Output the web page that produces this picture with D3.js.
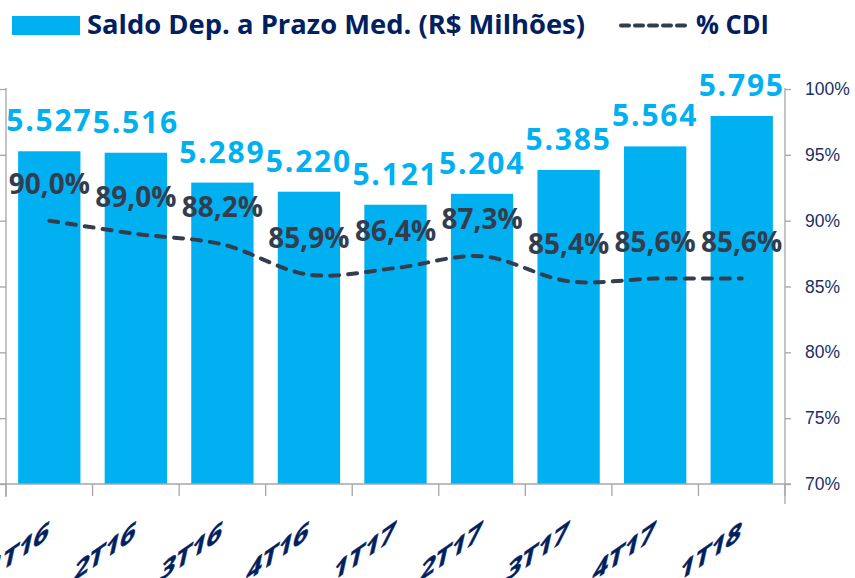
<!DOCTYPE html>
<meta charset="utf-8">
<style>
body { margin: 0; background: #fff; }
svg { display: block; font-family: "Open Sans", "Noto Sans", sans-serif; }
.axis line, .axis path { stroke: #a6a6a6; stroke-width: 1.3; }
</style>
<body>
<script src="https://d3js.org/d3.v7.min.js"></script>
<script>

// data
const quarters = ["1T16", "2T16", "3T16", "4T16", "1T17", "2T17", "3T17", "4T17", "1T18"];
const saldo = [5527, 5516, 5289, 5220, 5121, 5204, 5385, 5564, 5795];
const cdi = [90.0, 89.0, 88.2, 85.9, 86.4, 87.3, 85.4, 85.6, 85.6];
const leftTicks = [3000, 3500, 4000, 4500, 5000, 5500, 6000];
const rightTicks = [70, 75, 80, 85, 90, 95, 100];

let width = 855, height = 578,
    plotLeft = 6, plotRight = 785, plotTop = 89, plotBottom = 484;

let blue = "#00b0f0", navy = "#002060", slate = "#343d4e";

let svg = d3.select("body").append("svg")
    .attr("width", width)
    .attr("height", height);

let x = d3.scaleBand()
    .domain(quarters)
    .range([plotLeft, plotRight])
    .paddingInner(0.28)
    .paddingOuter(0.14);

let yL = d3.scaleLinear().domain([3000, 6000]).range([plotBottom, plotTop]);
let yR = d3.scaleLinear().domain([70, 100]).range([plotBottom, plotTop]);

let cx = function(d) { return x(d) + x.bandwidth() / 2; };
let fmtNum = function(v) { return d3.format(",")(v).replace(/,/g, "."); };
let fmtPct = function(v) { return v.toFixed(1).replace(".", ",") + "%"; };

// bars
svg.append("g").selectAll("rect")
    .data(quarters)
  .enter().append("rect")
    .attr("x", d => x(d))
    .attr("width", x.bandwidth())
    .attr("y", (d, i) => yL(saldo[i]))
    .attr("height", (d, i) => plotBottom - yL(saldo[i]))
    .attr("fill", blue);

// left axis (no labels)
let gl = svg.append("g").attr("class", "axis")
    .attr("transform", "translate(" + plotLeft + ",0)")
    .call(d3.axisLeft(yL).tickValues(leftTicks).tickSize(6).tickFormat(""));
gl.select(".domain").remove();
gl.append("line").attr("y1", plotTop - 1).attr("y2", plotBottom + 13);

// right axis
let gr = svg.append("g").attr("class", "axis")
    .attr("transform", "translate(" + plotRight + ",0)")
    .call(d3.axisRight(yR).tickValues(rightTicks).tickSize(6).tickPadding(14)
      .tickFormat(d => d + "%"));
gr.select(".domain").remove();
gr.append("line").attr("y1", plotTop - 1).attr("y2", plotBottom + 20);
gr.selectAll("text")
    .attr("fill", "#1a2f66")
    .style("font-size", "17.5px");

// bottom axis: baseline plus ticks at category boundaries
let gb = svg.append("g").attr("class", "axis");
gb.append("line").attr("x1", 0).attr("x2", plotRight + 6).attr("y1", plotBottom).attr("y2", plotBottom);
gb.selectAll(".tick")
    .data(d3.range(quarters.length + 1))
  .enter().append("line")
    .attr("x1", i => plotLeft + i * x.step())
    .attr("x2", i => plotLeft + i * x.step())
    .attr("y1", plotBottom)
    .attr("y2", plotBottom + 12);

// category labels, slanted
svg.append("g").selectAll("text")
    .data(quarters)
  .enter().append("text")
    .attr("transform", d => "matrix(1,-0.7,-0.22,1," + (cx(d) - 2) + "," + (plotBottom + 55) + ")")
    .attr("text-anchor", "end")
    .attr("fill", navy)
    .attr("stroke", navy)
    .attr("stroke-width", 0.6)
    .style("font-size", "27px")
    .style("font-weight", 700)
    .text(d => d);

// % CDI line
let line = d3.line()
    .x(d => cx(d))
    .y((d, i) => yR(cdi[i]))
    .curve(d3.curveCatmullRom.alpha(0.5));

svg.append("path")
    .datum(quarters)
    .attr("d", line)
    .attr("fill", "none")
    .attr("stroke", slate)
    .attr("stroke-width", 4)
    .attr("stroke-linecap", "round")
    .attr("stroke-dasharray", "9,9");

// % labels
svg.append("g").selectAll("text")
    .data(quarters)
  .enter().append("text")
    .attr("x", d => cx(d))
    .attr("y", (d, i) => yR(cdi[i]) - 27)
    .attr("text-anchor", "middle")
    .attr("fill", slate)
    .style("font-size", "28px")
    .style("font-weight", 700)
    .text((d, i) => fmtPct(cdi[i]));

// value labels
svg.append("g").selectAll("text")
    .data(quarters)
  .enter().append("text")
    .attr("x", d => cx(d))
    .attr("y", (d, i) => yL(saldo[i]) - 20)
    .attr("text-anchor", "middle")
    .attr("fill", blue)
    .style("font-size", "30px")
    .style("font-weight", 700)
    .style("letter-spacing", "1.8px")
    .text((d, i) => fmtNum(saldo[i]));

// legend
let lg = svg.append("g");
lg.append("rect")
    .attr("x", 12).attr("y", 16).attr("width", 68).attr("height", 19)
    .attr("fill", blue);
lg.append("text")
    .attr("x", 87).attr("y", 34)
    .attr("fill", navy)
    .attr("textLength", 498)
    .attr("lengthAdjust", "spacingAndGlyphs")
    .style("font-size", "27px")
    .style("font-weight", 700)
    .text("Saldo Dep. a Prazo Med. (R$ Milhões)");
lg.append("line")
    .attr("x1", 621).attr("x2", 688).attr("y1", 25.5).attr("y2", 25.5)
    .attr("stroke", slate)
    .attr("stroke-width", 4)
    .attr("stroke-linecap", "round")
    .attr("stroke-dasharray", "8,6");
lg.append("text")
    .attr("x", 696).attr("y", 34)
    .attr("fill", navy)
    .attr("textLength", 73)
    .attr("lengthAdjust", "spacingAndGlyphs")
    .style("font-size", "27px")
    .style("font-weight", 700)
    .text("% CDI");

</script>
